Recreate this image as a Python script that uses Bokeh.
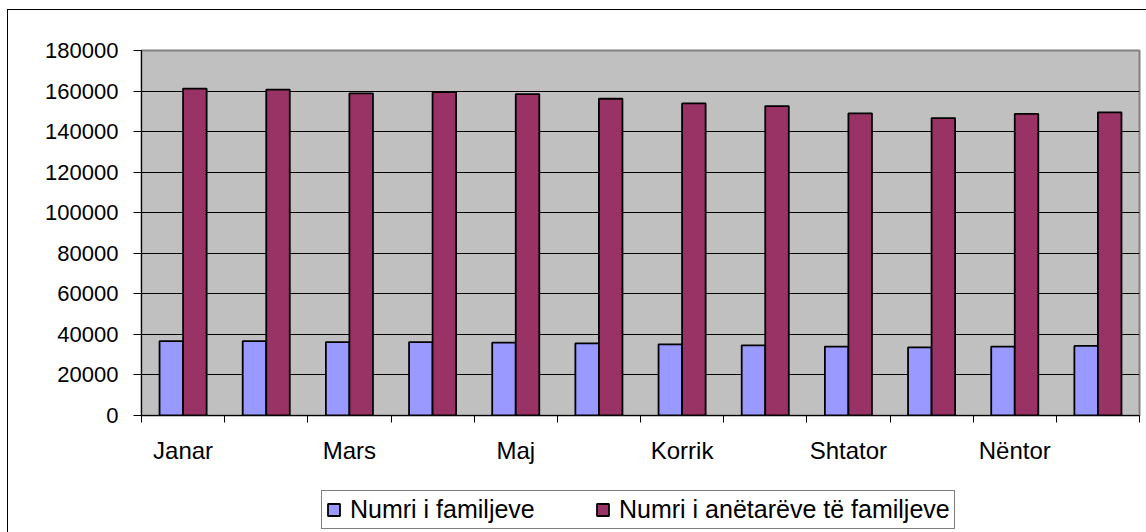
from bokeh.plotting import figure
from bokeh.layouts import column
from bokeh.models import (FixedTicker, Range1d, Legend, LegendItem, ColumnDataSource,
                          CustomJSTickFormatter)
from bokeh.transform import dodge
from bokeh.embed import file_html
from bokeh.resources import INLINE

months = ["Janar", "Shkurt", "Mars", "Prill", "Maj", "Qershor", "Korrik",
          "Gusht", "Shtator", "Tetor", "Nëntor", "Dhjetor"]
shown_months = ["Janar", "Mars", "Maj", "Korrik", "Shtator", "Nëntor"]
families = [36700, 36700, 36200, 36200, 35900, 35600, 35100, 34600, 34000, 33600, 34000, 34300]
members = [161200, 160700, 158900, 159500, 158500, 156200, 153900, 152600, 149000, 146700, 148700, 149500]
y_ticks = [0, 20000, 40000, 60000, 80000, 100000, 120000, 140000, 160000, 180000]
series_names = ["Numri i familjeve", "Numri i anëtarëve të familjeve"]
series_colors = ["#9999FF", "#993366"]

FONT = "Liberation Sans"

src = ColumnDataSource(dict(
    x=[i + 0.5 for i in range(len(months))],
    fam=families,
    mem=members,
))

p = figure(width=1138, height=470, output_backend="svg", toolbar_location=None,
           x_range=Range1d(0, len(months)), y_range=Range1d(0, y_ticks[-1]),
           min_border_left=133, min_border_right=7, min_border_top=40,
           min_border_bottom=65, background_fill_color="#C0C0C0",
           border_fill_color="white")
p.outline_line_color = "#808080"
p.outline_line_width = 2

bw = 0.283
bar_style = dict(line_color="black", line_width=1.8)
r1 = p.vbar(x=dodge("x", -bw / 2, range=p.x_range), top="fam", width=bw, bottom=0,
            source=src, fill_color=series_colors[0], **bar_style)
r2 = p.vbar(x=dodge("x", bw / 2, range=p.x_range), top="mem", width=bw, bottom=0,
            source=src, fill_color=series_colors[1], **bar_style)

# grid
p.xgrid.visible = False
p.ygrid.ticker = FixedTicker(ticks=y_ticks)
p.ygrid.grid_line_color = "black"
p.ygrid.grid_line_width = 1

# y axis
ya = p.yaxis[0]
ya.ticker = FixedTicker(ticks=y_ticks)
ya.formatter = CustomJSTickFormatter(code="return String(Math.round(tick));")
ya.axis_line_color = "black"
ya.major_tick_line_color = "black"
ya.major_tick_out = 8
ya.major_tick_in = 0
ya.minor_tick_line_color = None
ya.major_label_standoff = 15
ya.major_label_text_font = FONT
ya.major_label_text_font_size = "22px"
ya.major_label_text_color = "black"

# x axis
label_ticks = [i + 0.5 for i, m in enumerate(months) if m in shown_months]
xa = p.xaxis[0]
xa.ticker = FixedTicker(ticks=label_ticks, minor_ticks=list(range(len(months) + 1)))
xa.formatter = CustomJSTickFormatter(args=dict(months=months),
                                     code="return months[Math.floor(tick)];")
xa.axis_line_color = "black"
xa.major_tick_line_color = None
xa.major_tick_out = 0
xa.major_tick_in = 0
xa.minor_tick_line_color = "black"
xa.minor_tick_out = 7
xa.minor_tick_in = 0
xa.major_label_standoff = 14
xa.major_label_text_font = FONT
xa.major_label_text_font_size = "24px"
xa.major_label_text_color = "black"

# legend strip below the chart (its frame is aligned with the chart's frame)
lf = figure(width=1138, height=52, output_backend="svg", toolbar_location=None,
            x_axis_type=None, y_axis_type=None, x_range=Range1d(0, len(months)),
            y_range=Range1d(0, y_ticks[-1]),
            min_border_left=0, min_border_right=0, min_border_top=0, min_border_bottom=0,
            background_fill_color="white", border_fill_color="white")
lf.outline_line_color = None
lf.grid.visible = False
# hidden copies of the series: only their legend swatches are shown
l1 = lf.vbar(x="x", top="fam", bottom=0, width=bw, source=src,
             fill_color=series_colors[0], visible=False, **bar_style)
l2 = lf.vbar(x="x", top="mem", bottom=0, width=bw, source=src,
             fill_color=series_colors[1], visible=False, **bar_style)

legend = Legend(items=[LegendItem(label=series_names[0], renderers=[l1]),
                       LegendItem(label=series_names[1], renderers=[l2])],
                location=(180, 3), orientation="horizontal",
                glyph_width=15, glyph_height=15, label_standoff=9, spacing=45,
                label_width=200, padding=4, margin=0,
                label_text_font=FONT, label_text_font_size="25px",
                label_text_color="black", border_line_color="black",
                border_line_width=1, background_fill_color="white",
                background_fill_alpha=1.0, inactive_fill_alpha=0.0)
lf.add_layout(legend)

layout = column(p, lf, spacing=0)
layout.styles = {"margin-left": "7px", "margin-top": "9px",
                 "border-left": "1px solid black", "border-top": "1px solid black"}

open("out.html", "w").write(file_html(layout, INLINE))
